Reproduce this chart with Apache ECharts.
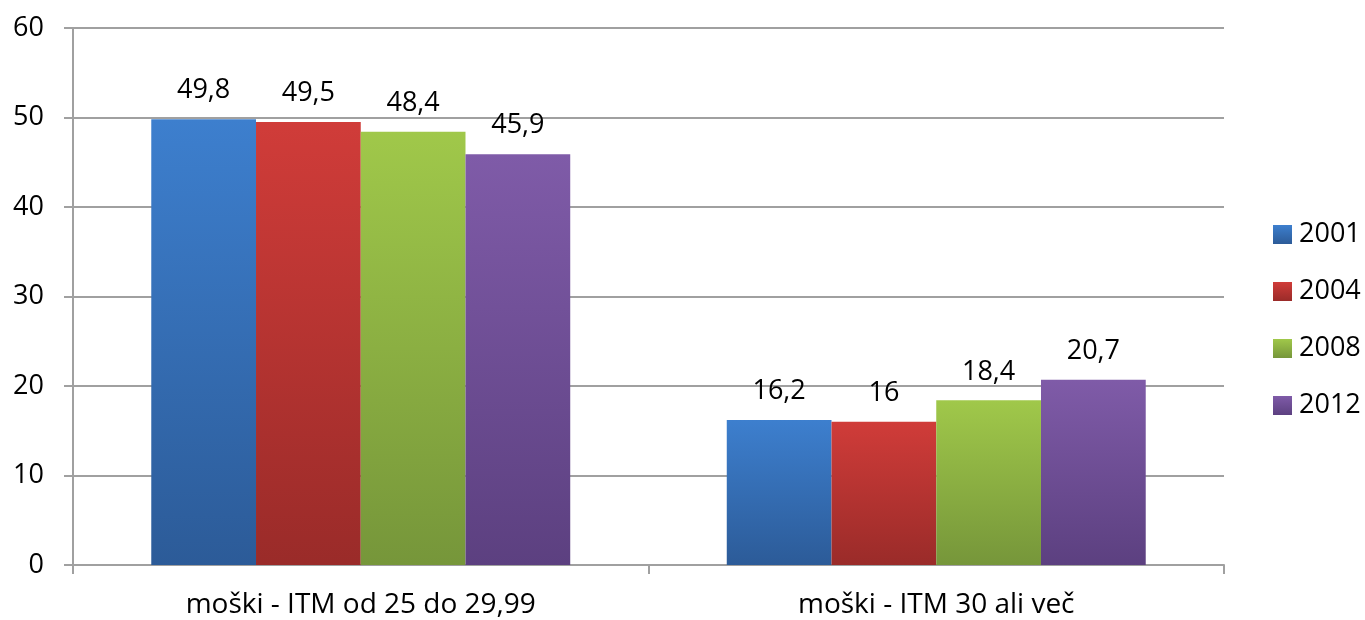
<!DOCTYPE html>
<html><head><meta charset="utf-8">
<script src="https://cdn.jsdelivr.net/npm/echarts@6/dist/echarts.min.js"></script>
<style>html,body{margin:0;padding:0;background:#fff}#c{width:1365px;height:620px}</style>
</head><body><div id="c"></div>
<script>
const categories = ['moški - ITM od 25 do 29,99', 'moški - ITM 30 ali več'];
const years = ['2001', '2004', '2008', '2012'];
const v2001 = [49.8, 16.2];
const v2004 = [49.5, 16];
const v2008 = [48.4, 18.4];
const v2012 = [45.9, 20.7];
const yTicks = [0, 10, 20, 30, 40, 50, 60];

const values = [v2001, v2004, v2008, v2012];
const grads = [['#3d7fce', '#2c5b98'], ['#d03c39', '#9a2b29'], ['#a0c84a', '#76963a'], ['#7f5ba8', '#5c4080']];
const FONT = 'Open Sans';
const chart = echarts.init(document.getElementById('c'));
chart.setOption({
  animation: false,
  textStyle: { fontFamily: FONT },
  grid: { left: 73, right: 141, top: 28, bottom: 55 },
  legend: {
    orient: 'vertical', left: 1273, top: 221, padding: 0, icon: 'rect', itemWidth: 19, itemHeight: 19, itemGap: 30,
    textStyle: { fontSize: 27, color: '#000', fontFamily: FONT, padding: [0, 0, 0, 2] },
    data: years
  },
  xAxis: {
    type: 'category', data: categories,
    axisLine: { lineStyle: { color: '#a0a0a0', width: 2 } },
    axisTick: { show: true, length: 9, lineStyle: { color: '#a0a0a0', width: 2 } },
    axisLabel: { fontSize: 28, color: '#000', margin: 26 }
  },
  yAxis: {
    type: 'value', min: yTicks[0], max: yTicks[yTicks.length - 1], interval: 10,
    axisLine: { show: true, lineStyle: { color: '#a0a0a0', width: 2 } },
    axisTick: { show: true, length: 9, lineStyle: { color: '#a0a0a0', width: 2 } },
    splitLine: { lineStyle: { color: '#a0a0a0', width: 2 } },
    axisLabel: { fontSize: 27, color: '#000', margin: 29 }
  },
  series: years.map((y, i) => ({
    name: y, type: 'bar', data: values[i], barWidth: '18.2%', barGap: '0%',
    itemStyle: { color: new echarts.graphic.LinearGradient(0, 0, 0, 1, [{ offset: 0, color: grads[i][0] }, { offset: 1, color: grads[i][1] }]) },
    label: { show: true, position: 'top', distance: 15, fontSize: 27, color: '#000', formatter: p => String(p.value).replace('.', ',') }
  }))
});
</script></body></html>
